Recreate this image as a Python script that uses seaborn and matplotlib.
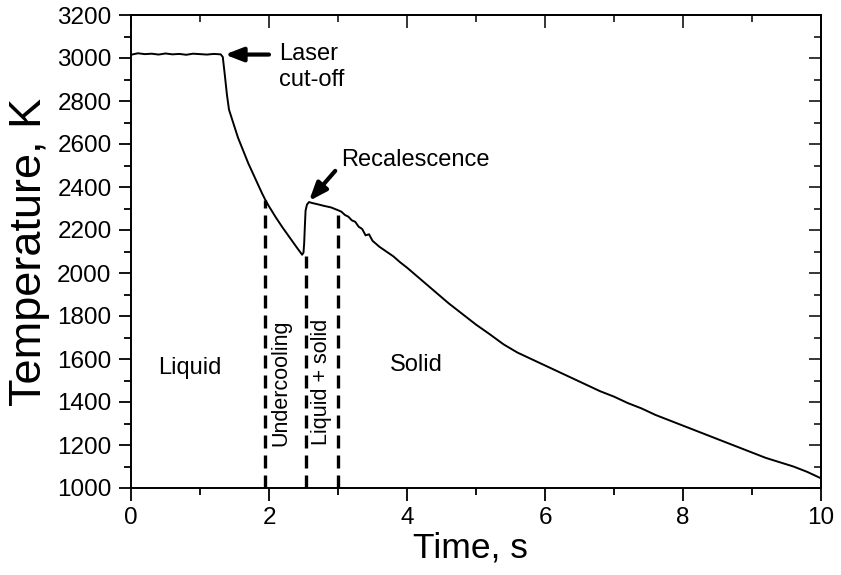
import matplotlib
matplotlib.use("Agg")
import matplotlib.pyplot as plt
import seaborn as sns
import pandas as pd
from matplotlib.ticker import MultipleLocator

# ---- data ----
time_s = [0.00, 0.10, 0.20, 0.30, 0.40, 0.50, 0.60, 0.70, 0.80, 0.90,
          1.00, 1.10, 1.20, 1.30, 1.33, 1.36, 1.39, 1.42, 1.46, 1.50,
          1.55, 1.60, 1.65, 1.70, 1.75, 1.80, 1.85, 1.90, 1.95, 2.00,
          2.10, 2.20, 2.30, 2.40, 2.48, 2.50, 2.51, 2.52, 2.53, 2.55,
          2.58, 2.62, 2.70, 2.80, 2.90, 3.00, 3.05, 3.10, 3.15, 3.20,
          3.25, 3.30, 3.35, 3.40, 3.45, 3.50, 3.60, 3.70, 3.80, 3.90,
          4.00, 4.20, 4.40, 4.60, 4.80, 5.00, 5.20, 5.40, 5.60, 5.80,
          6.00, 6.20, 6.40, 6.60, 6.80, 7.00, 7.20, 7.40, 7.60, 7.80,
          8.00, 8.20, 8.40, 8.60, 8.80, 9.00, 9.20, 9.40, 9.60, 9.80,
          10.00]
temperature_K = [3015, 3022, 3018, 3020, 3016, 3021, 3017, 3019, 3015, 3020,
                 3018, 3016, 3019, 3017, 3005, 2920, 2830, 2760, 2720, 2680,
                 2630, 2590, 2550, 2510, 2475, 2440, 2405, 2370, 2338, 2310,
                 2258, 2210, 2165, 2120, 2085, 2095, 2140, 2220, 2290, 2318,
                 2330, 2326, 2320, 2312, 2305, 2292, 2285, 2270, 2262, 2245,
                 2238, 2215, 2205, 2175, 2180, 2150, 2122, 2100, 2078, 2050,
                 2025, 1970, 1915, 1860, 1810, 1760, 1715, 1668, 1630, 1600,
                 1570, 1540, 1510, 1480, 1450, 1425, 1395, 1370, 1340, 1315,
                 1290, 1265, 1240, 1215, 1190, 1165, 1140, 1120, 1100, 1075,
                 1045]

boundary_times = [1.94, 2.54, 3.00]
boundary_tops = [2340, 2080, 2290]

x_ticks = [0, 2, 4, 6, 8, 10]
y_ticks = [1000, 1200, 1400, 1600, 1800, 2000, 2200, 2400, 2600, 2800, 3000, 3200]

df = pd.DataFrame({"Time": time_s, "Temperature": temperature_K})

sns.set_theme(style="ticks")
plt.rcParams["font.family"] = ["Liberation Sans", "DejaVu Sans"]

fig = plt.figure(figsize=(8.41, 5.75), dpi=100)
ax = fig.add_axes([131 / 841, 87 / 575, 690 / 841, 473 / 575])

sns.lineplot(data=df, x="Time", y="Temperature", ax=ax, color="black",
             linewidth=1.4, estimator=None, sort=False)

ax.vlines(boundary_times, 1000, boundary_tops, colors="black",
          linestyles=(0, (3.9, 2.1)), linewidth=2.4)

ax.set_xlim(0, 10)
ax.set_ylim(1000, 3200)
ax.set_xticks(x_ticks)
ax.set_yticks(y_ticks)
ax.xaxis.set_minor_locator(MultipleLocator(1))
ax.yaxis.set_minor_locator(MultipleLocator(100))

for s in ax.spines.values():
    s.set_visible(True)
    s.set_linewidth(1.4)
    s.set_color("black")

ax.tick_params(axis="both", which="major", direction="out", length=9,
               width=1.3, colors="black", labelsize=17.5, pad=5)
ax.tick_params(axis="both", which="minor", direction="out", length=5,
               width=1.3, colors="black")

top = ax.secondary_xaxis("top")
top.set_xticks(x_ticks)
top.xaxis.set_minor_locator(MultipleLocator(1))
top.tick_params(which="major", direction="in", length=9, width=1.3,
                labeltop=False)
top.tick_params(which="minor", direction="in", length=5, width=1.3)
top.spines["top"].set_linewidth(1.4)

right = ax.secondary_yaxis("right")
right.set_yticks(y_ticks)
right.yaxis.set_minor_locator(MultipleLocator(100))
right.tick_params(which="major", direction="in", length=9, width=1.3,
                  labelright=False)
right.tick_params(which="minor", direction="in", length=5, width=1.3)
right.spines["right"].set_linewidth(1.4)

ax.set_xlabel("Time, s", fontsize=25.5, color="black")
ax.xaxis.set_label_coords(0.492, -0.092)
ax.set_ylabel("Temperature, K", fontsize=32.5, labelpad=5, color="black")

# annotations
ax.annotate("", xy=(1.36, 3016), xytext=(2.0, 3016),
            arrowprops=dict(arrowstyle="-|>,head_length=0.9,head_width=0.35",
                            color="black", lw=3.0, shrinkA=0, shrinkB=0))
ax.text(2.15, 2958, "Laser\ncut-off", fontsize=17, ha="left", va="center",
        linespacing=1.25, color="black")

ax.annotate("", xy=(2.58, 2335), xytext=(2.96, 2475),
            arrowprops=dict(arrowstyle="-|>,head_length=0.9,head_width=0.35",
                            color="black", lw=3.0, shrinkA=0, shrinkB=0))
ax.text(3.05, 2525, "Recalescence", fontsize=17, ha="left", va="center",
        color="black")

ax.text(0.40, 1560, "Liquid", fontsize=17, ha="left", va="center", color="black")
ax.text(3.75, 1570, "Solid", fontsize=17, ha="left", va="center", color="black")
ax.text(2.17, 1488, "Undercooling", fontsize=15.5, rotation=90,
        ha="center", va="center", color="black")
ax.text(2.76, 1492, "Liquid + solid", fontsize=15.5, rotation=90,
        ha="center", va="center", color="black")

fig.savefig("out.png", dpi=100)
